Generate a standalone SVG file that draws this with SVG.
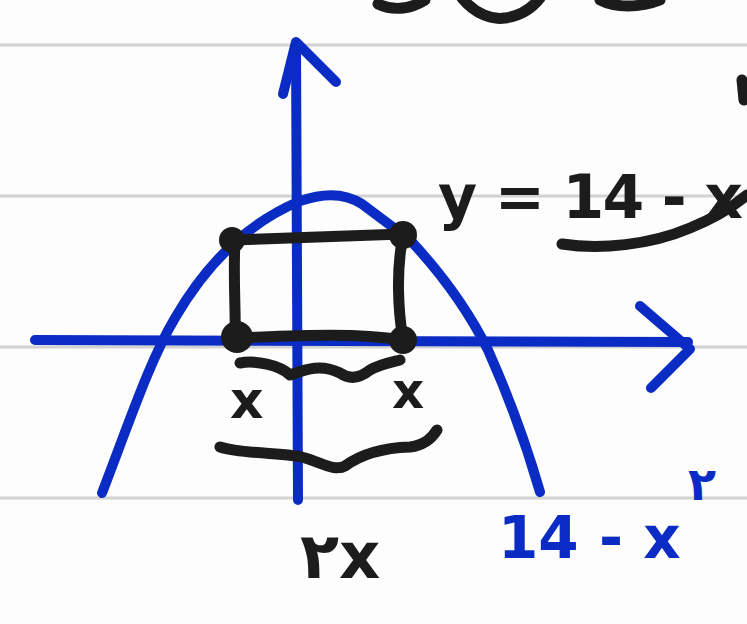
<svg xmlns="http://www.w3.org/2000/svg" width="747" height="624" viewBox="0 0 747 624">
<style>
.rule{stroke:#d2d2d2;stroke-width:3}
.blue{fill:none;stroke:#0b2cc4;stroke-width:10;stroke-linecap:round;stroke-linejoin:round}
.ink{fill:none;stroke:#1c1c1c;stroke-width:11;stroke-linecap:round;stroke-linejoin:round}
.dot{fill:#1c1c1c}
.tb{font-family:"DejaVu Sans","Noto Sans",sans-serif;font-weight:bold;fill:#1c1c1c}
.tu{font-family:"DejaVu Sans","Noto Sans",sans-serif;font-weight:bold;fill:#0b2cc4}
</style>
<rect width="747" height="624" fill="#fdfdfd"/>
<g id="rules">
<line class="rule" x1="0" y1="45" x2="747" y2="45"/>
<line class="rule" x1="0" y1="196" x2="747" y2="196"/>
<line class="rule" x1="0" y1="347" x2="747" y2="347"/>
<line class="rule" x1="0" y1="498" x2="747" y2="498"/>
</g>
<g id="top-scribble">
<path class="ink" d="M378,4 C395,12 412,8 425,0"/>
<path class="ink" d="M462,-2 C475,14 492,20 505,18 C520,16 532,8 540,-2"/>
<path class="ink" d="M600,0 C615,8 640,8 660,0"/>
<path class="ink" d="M742,80 L744,100"/>
</g>
<g id="axes">
<path class="blue" d="M35,340 L688,342"/>
<path class="blue" d="M640,306 L690,349 L651,388"/>
<path class="blue" d="M298,500 L296,45"/>
<path class="blue" d="M283,94 L296,42 L336,82"/>
</g>
<g id="parabola">
<path class="blue" d="M102,493 C130,420 150,360 175,318 C200,275 240,226 300,201 C320,194 342,191 362,204 L410,240 C440,272 468,310 488,350 C508,395 525,440 540,492"/>
</g>
<g id="rectangle">
<path class="ink" d="M232,240 L403,234"/>
<path class="ink" d="M235,240 C233,280 236,310 235,338"/>
<path class="ink" d="M403,236 C396,270 398,310 403,340"/>
<path class="ink" d="M235,338 C290,336 350,332 403,340"/>
<circle class="dot" cx="232" cy="240" r="13"/>
<circle class="dot" cx="403" cy="235" r="14"/>
<circle class="dot" cx="237" cy="337" r="16"/>
<circle class="dot" cx="403" cy="340" r="14"/>
</g>
<g id="braces">
<path class="ink" d="M240,363 C255,360 280,365 290,375 C300,372 318,362 340,373 C350,380 360,378 370,370 C380,364 392,362 400,360"/>
<path class="ink" d="M220,447 C245,455 290,452 305,458 C320,462 335,472 345,466 C360,455 380,448 410,447 C425,445 432,438 437,430"/>
</g>
<g id="labels">
<text class="tb" x="230" y="418" font-size="52">x</text>
<text class="tb" x="392" y="408" font-size="50">x</text>
<text class="tb" x="438" y="218" font-size="60" textLength="305" lengthAdjust="spacing">y = 14 - x</text>
<path class="ink" d="M562,244 C600,250 650,245 690,228 C715,218 735,205 747,195"/>
<text class="tb" x="300" y="578" font-size="64">۲x</text>
<text class="tu" x="498" y="558" font-size="58">14 - x</text>
<text class="tu" x="688" y="500" font-size="46">۲</text>
</g>
</svg>
